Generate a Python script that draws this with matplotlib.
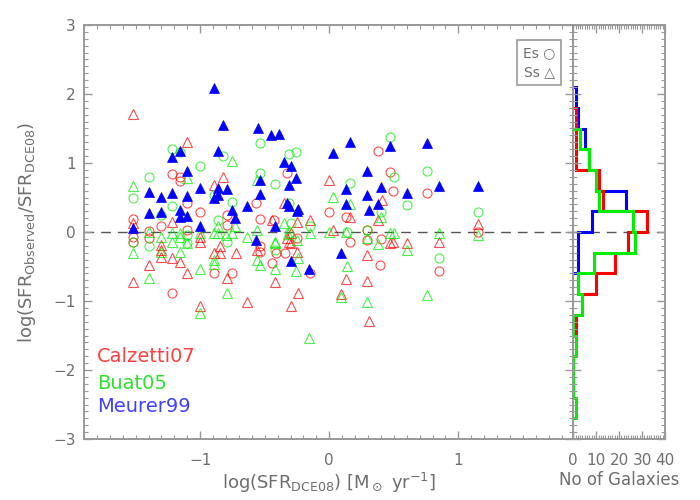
import matplotlib
matplotlib.use("Agg")
import matplotlib.pyplot as plt
from matplotlib.ticker import MultipleLocator
import numpy as np

plt.rcParams['font.family'] = 'DejaVu Sans'
plt.rcParams['mathtext.fontset'] = 'dejavusans'

GREY = '#6e6e6e'
AXC = '#999999'

# Calzetti07 - Es (open circles)
cal_es_x = [-1.22, -1.16, -1.16, -0.33, -1.10, -1.00, -0.57, -0.79, -1.52, -1.30, -1.40, -1.40,
            -1.52, -1.52, -1.10, -0.54, -0.43, 0.00, -0.34, -0.41, -0.54, -0.54, -0.79, -0.44,
            -0.25, -0.89, -0.75, -1.22, -0.15, 0.38, 0.47, 0.49, 0.76, 0.13, 0.16, 0.29, 0.29,
            0.40, 1.15, 0.39, 0.85]
cal_es_y = [0.84, 0.79, 0.74, 0.85, 0.42, 0.29, 0.42, 0.25, 0.19, 0.09, 0.02, -0.09,
            -0.07, -0.14, 0.03, 0.19, 0.17, 0.29, -0.30, -0.30, -0.21, -0.29, 0.10, -0.45,
            -0.09, -0.60, -0.60, -0.88, -0.60, 1.18, 0.87, 0.60, 0.56, 0.22, -0.14, 0.03, -0.12,
            -0.10, 0.00, -0.48, -0.57]

# Calzetti07 - Ss (open triangles)
cal_ss_x = [-1.52, -1.10, -0.82, -0.89, -0.35, -0.44, -0.15, -0.25, -1.22, -1.52, 0.00, -0.30,
            -1.00, -1.30, -0.89, -0.72, -0.56, -0.31, -0.25, -1.30, -1.30, -1.22, -1.16, -1.40,
            -1.52, -1.10, -1.00, -1.00, -0.85, -0.85, -0.79, -0.64, -0.42, -0.30, -0.24, -0.30,
            -0.33, 0.41, 0.16, 0.03, 0.38, 1.15, 0.47, 0.49, 0.60, 0.85, 0.29, 0.13, 0.29, 0.09,
            0.31]
cal_ss_y = [1.71, 1.31, 0.80, 0.68, 0.42, 0.17, 0.17, 0.15, 0.14, 0.13, 0.75, -0.02,
            -0.14, -0.19, -0.31, -0.31, -0.26, -0.14, -0.29, -0.26, -0.36, -0.38, -0.43, -0.48,
            -0.72, -0.60, -0.07, -1.07, -0.21, -0.31, -0.66, -1.02, -0.72, -1.07, -0.88, -0.16,
            -0.09, 0.46, 0.22, 0.03, 0.18, 0.11, -0.16, -0.14, -0.16, -0.14, -0.33, -0.68, -0.71,
            -0.90, -1.29]

# Buat05 - Es
buat_es_x = [-1.22, -1.16, -0.54, -0.82, -0.31, -0.26, -1.00, -1.40, -0.54, -0.42, -1.52, -0.89,
             -0.75, -0.31, -1.22, -1.30, -0.86, -0.15, -0.30, -1.10, -1.52, -1.40, -1.10, -0.79,
             -0.42, -0.31, 0.47, 0.16, 0.50, 0.76, 0.60, 0.40, 1.15, 0.14, 0.29, 0.85]
buat_es_y = [1.21, 1.16, 1.29, 1.10, 1.13, 1.16, 0.95, 0.80, 0.85, 0.70, 0.50, 0.54,
             0.44, 0.42, 0.37, 0.25, 0.17, 0.08, 0.13, -0.04, -0.14, -0.21, -0.16, -0.14,
             -0.26, -0.01, 1.38, 0.71, 0.80, 0.88, 0.39, 0.29, 0.29, 0.00, 0.03, -0.37]

# Buat05 - Ss
buat_ss_x = [-0.75, -1.10, -1.52, -0.56, -0.86, -0.89, -0.86, -0.80, -1.40, -1.30, -1.22, -1.16,
             -1.16, -1.22, -1.00, -0.75, -0.73, -0.64, -0.56, -0.42, -0.35, -0.32, -0.25, -0.15,
             -1.52, -1.16, -1.40, -1.30, -1.10, -1.00, -1.00, -0.89, -0.89, -0.79, -0.56, -0.54,
             -0.42, -0.42, -0.26, -0.24, -0.16, 0.03, 0.16, 0.40, 0.00, 0.13, 0.29, 0.38, 0.47,
             0.50, 0.60, 0.85, 1.15, 0.14, 0.09, 0.29, 0.76]
buat_ss_y = [1.03, 0.78, 0.66, 0.75, 0.08, -0.02, -0.02, -0.04, 0.00, -0.07, -0.01, -0.01,
             -0.07, -0.14, -0.02, -0.02, 0.08, -0.07, 0.03, -0.14, 0.13, -0.03, -0.12, -0.02,
             -0.31, -0.29, -0.66, -0.29, -0.16, -0.54, -1.17, -0.41, -0.46, -0.88, -0.41, -0.48,
             -0.16, -0.54, -0.57, -0.38, -1.54, 0.51, 0.41, 0.22, 0.00, 0.00, -0.09, -0.17, -0.01,
             -0.01, -0.26, -0.01, -0.04, -0.49, -0.94, -1.01, -0.91]

# Meurer99 - Ss (filled triangles)
meu_ss_x = [-0.89, -0.82, -0.55, -0.45, -0.39, -1.16, -1.22, -0.86, -0.35, -0.30, -1.10, -0.26,
            -0.31, -1.00, -0.86, -0.79, -1.40, -0.54, -0.54, -1.30, -1.22, -1.10, -0.86, -0.89,
            -0.64, -0.75, -0.73, -0.33, -0.31, -0.24, -0.25, -1.40, -1.30, -1.16, -1.16, -1.10,
            -1.00, -1.52, -0.42, -0.57, -0.30, -0.16, 0.16, 0.03, 0.47, 0.76, 0.29, 0.13, 0.40,
            0.85, 1.15, 0.29, 0.60, 0.13, 0.38, 0.31, 0.09]
meu_ss_y = [2.08, 1.55, 1.51, 1.40, 1.42, 1.18, 1.08, 1.18, 1.02, 0.95, 0.89, 0.78,
            0.68, 0.64, 0.64, 0.62, 0.58, 0.75, 0.55, 0.51, 0.56, 0.52, 0.54, 0.49,
            0.37, 0.32, 0.20, 0.42, 0.37, 0.34, 0.30, 0.27, 0.29, 0.32, 0.22, 0.23,
            0.08, 0.06, 0.08, -0.12, -0.42, -0.53, 1.30, 1.15, 1.25, 1.29, 0.88, 0.63, 0.65,
            0.67, 0.66, 0.54, 0.56, 0.41, 0.41, 0.32, -0.30]

# histogram counts, bins of 0.3 from -2.7 to 2.1 (bottom to top)
hist_edges = [-2.7, -2.4, -2.1, -1.8, -1.5, -1.2, -0.9, -0.6, -0.3, 0.0,
              0.3, 0.6, 0.9, 1.2, 1.5, 1.8, 2.1]
hist_cal = [0, 0, 0, 1, 1, 4, 10, 18, 24, 32, 13, 11, 1, 1, 1, 0]
hist_buat = [1, 0, 0, 1, 0, 4, 2, 9, 27, 26, 11, 10, 7, 3, 0, 0]
hist_meu = [0, 0, 0, 0, 0, 0, 0, 2, 2, 8, 23, 11, 7, 5, 2, 1]

RED = '#ff0000'
GREEN = '#00ee00'
BLUE = '#0000ff'

fig = plt.figure(figsize=(7, 5), dpi=100)
ax = fig.add_axes([0.12, 0.122, 0.699, 0.828])
axh = fig.add_axes([0.819, 0.122, 0.131, 0.828])

ms = 7
ax.plot(cal_es_x, cal_es_y, 'o', ms=6.5, mfc='none', mec=RED, mew=0.8, alpha=0.7)
ax.plot(cal_ss_x, cal_ss_y, '^', ms=ms, mfc='none', mec=RED, mew=0.8, alpha=0.7)
ax.plot(buat_es_x, buat_es_y, 'o', ms=6.5, mfc='none', mec=GREEN, mew=0.8, alpha=0.7)
ax.plot(buat_ss_x, buat_ss_y, '^', ms=ms, mfc='none', mec=GREEN, mew=0.8, alpha=0.7)
ax.plot(meu_ss_x, meu_ss_y, '^', ms=ms, mfc=BLUE, mec=BLUE, mew=0.5)

ax.axhline(0, color='#555555', ls=(0, (7, 5)), lw=1, zorder=0)
ax.set_xlim(-1.9, 1.89)
ax.set_ylim(-3, 3)

ax.set_xlabel(r'log(SFR$_{\rm DCE08}$) [M$_\odot$ yr$^{-1}$]', fontsize=13, color=GREY, va='top')
ax.xaxis.set_label_coords(0.5, -0.078)
ax.set_ylabel(r'log(SFR$_{\rm Observed}$/SFR$_{\rm DCE08}$)', fontsize=13, color=GREY)
ax.yaxis.set_label_coords(-0.095, 0.5)

ax.text(0.027, 0.199, 'Calzetti07', transform=ax.transAxes, color='#ff4040', fontsize=14, va='center')
ax.text(0.027, 0.133, 'Buat05', transform=ax.transAxes, color='#30e030', fontsize=14, va='center')
ax.text(0.027, 0.078, 'Meurer99', transform=ax.transAxes, color='#4040ff', fontsize=14, va='center')

ax.text(0.93, 0.909, 'Es \u25cb\nSs \u25b3', transform=ax.transAxes, color=GREY, fontsize=10,
        ha='center', va='center', linespacing=1.4,
        bbox=dict(boxstyle='square,pad=0.45', fc='white', ec=AXC, lw=1.2))

# histograms
for counts, col in [(hist_meu, BLUE), (hist_cal, RED), (hist_buat, GREEN)]:
    c = np.array(counts)
    nz = np.nonzero(c)[0]
    lo, hi = nz[0], nz[-1] + 1
    axh.stairs(c[lo:hi], hist_edges[lo:hi + 1], orientation='horizontal',
               color=col, lw=2.2)
axh.axhline(0, color='#555555', ls=(0, (7, 5)), lw=1, zorder=0)
axh.set_ylim(-3, 3)
axh.set_xlim(0, 40)
axh.set_xticks([0, 10, 20, 30, 40])
axh.xaxis.set_minor_locator(MultipleLocator(1))
axh.set_yticklabels([])
axh.set_xlabel('No of Galaxies', fontsize=12, color=GREY, va='top')
axh.xaxis.set_label_coords(0.5, -0.078)

ax.xaxis.set_major_locator(MultipleLocator(1))
ax.xaxis.set_minor_locator(MultipleLocator(0.1))
for a in (ax, axh):
    a.yaxis.set_major_locator(MultipleLocator(1))
    a.yaxis.set_minor_locator(MultipleLocator(0.1))
    a.tick_params(which='both', direction='in', top=True, right=True, color=AXC,
                  labelcolor=GREY, labelsize=11)
    a.tick_params(which='major', length=6, width=1)
    a.tick_params(which='minor', length=3, width=0.8)
    a.tick_params(axis='x', which='major', pad=10)
    a.tick_params(axis='y', which='major', pad=6)
    for s in a.spines.values():
        s.set_color(AXC)
        s.set_linewidth(1.4)
axh.tick_params(axis='y', labelleft=False)

fig.savefig('out.png', dpi=100)
